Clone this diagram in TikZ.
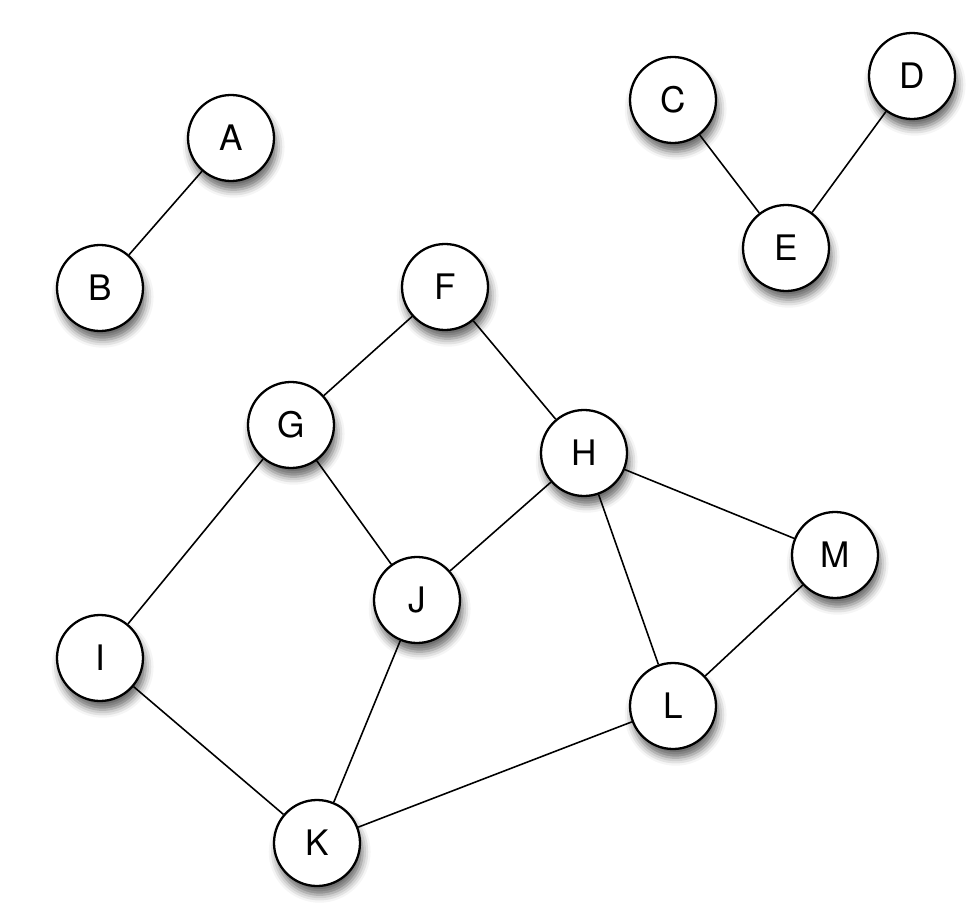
\documentclass[tikz,border=0pt]{standalone}
\usepackage{fontspec}
\setsansfont{TeX Gyre Heros}
\usepackage{tikz}
\usetikzlibrary{shadows.blur}

\begin{document}
\begin{tikzpicture}[
    vertex/.style={circle, draw, line width=1.3pt, fill=white, minimum size=1.72cm,
                   inner sep=0pt, font=\sffamily\fontsize{20}{24}\selectfont,
                   blur shadow={shadow xshift=1.5pt, shadow yshift=-5pt,
                                shadow blur radius=4.5pt, shadow opacity=60}},
    link/.style={line width=0.9pt},
]
\useasboundingbox (0,0) rectangle (19.52,-18.28);

% left pair
\node[vertex] (A) at (4.62,-2.76) {A};
\node[vertex] (B) at (2.0,-5.76) {B};
% right triple
\node[vertex] (C) at (13.46,-2.0) {C};
\node[vertex] (D) at (18.24,-1.52) {D};
\node[vertex] (E) at (15.72,-4.96) {E};
% main component
\node[vertex] (F) at (8.9,-5.74) {F};
\node[vertex] (G) at (5.82,-8.5) {G};
\node[vertex] (H) at (11.68,-9.06) {H};
\node[vertex] (I) at (2.0,-13.16) {I};
\node[vertex] (J) at (8.34,-12.0) {J};
\node[vertex] (K) at (6.34,-16.86) {K};
\node[vertex] (L) at (13.46,-14.12) {L};
\node[vertex] (M) at (16.7,-11.1) {M};

\draw[link] (A) -- (B);
\draw[link] (C) -- (E);
\draw[link] (D) -- (E);
\draw[link] (F) -- (G);
\draw[link] (F) -- (H);
\draw[link] (G) -- (J);
\draw[link] (G) -- (I);
\draw[link] (H) -- (J);
\draw[link] (H) -- (M);
\draw[link] (H) -- (L);
\draw[link] (M) -- (L);
\draw[link] (I) -- (K);
\draw[link] (J) -- (K);
\draw[link] (K) -- (L);

\end{tikzpicture}
\end{document}
